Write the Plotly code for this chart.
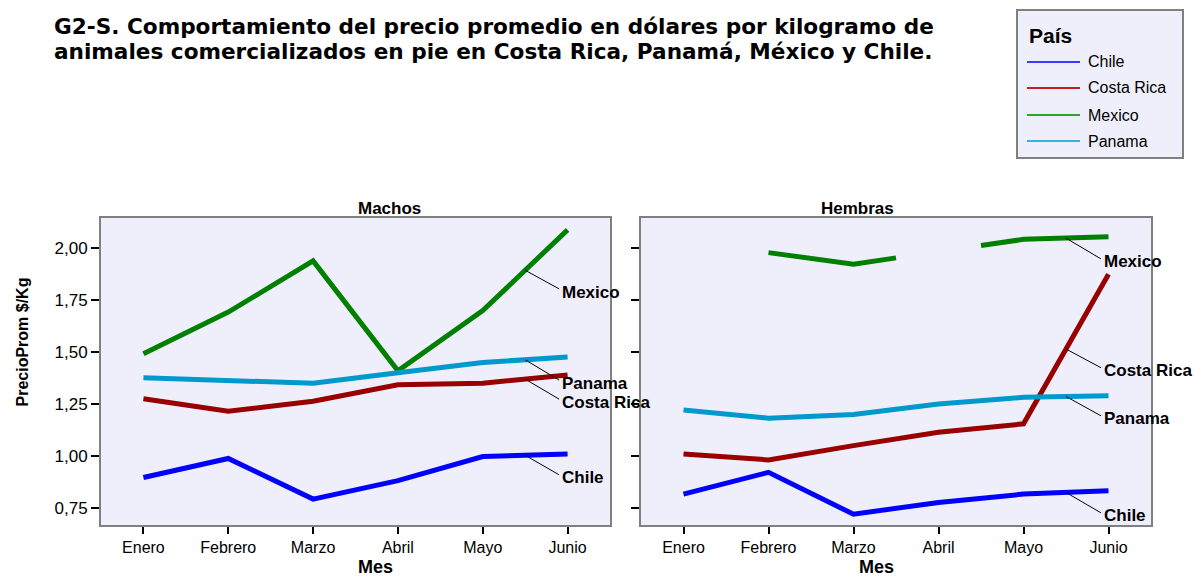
import plotly.graph_objects as go

# ---------------- data ----------------
months = ["Enero", "Febrero", "Marzo", "Abril", "Mayo", "Junio"]
countries = ["Chile", "Costa Rica", "Mexico", "Panama"]

machos_chile = [0.895, 0.987, 0.791, 0.880, 0.996, 1.009]
machos_costa_rica = [1.275, 1.215, 1.263, 1.342, 1.350, 1.390]
machos_mexico = [1.492, 1.693, 1.940, 1.410, 1.700, 2.090]
machos_panama = [1.376, 1.363, 1.350, 1.400, 1.450, 1.476]

hembras_chile = [0.815, 0.920, 0.718, 0.775, 0.815, 0.831]
hembras_costa_rica = [1.009, 0.980, 1.049, 1.113, 1.154, 1.876]
hembras_mexico = [None, 1.980, 1.924, 1.985, 2.044, 2.056]
hembras_panama = [1.221, 1.181, 1.199, 1.250, 1.282, 1.290]

# month index around which the line is interrupted (Mexico, Hembras, Abril)
hembras_mexico_gap = 3

colors = {"Chile": "#0000FF", "Costa Rica": "#990000",
          "Mexico": "#008000", "Panama": "#0099CC"}
legend_colors = {"Chile": "#3a3aff", "Costa Rica": "#c02020",
                 "Mexico": "#30a030", "Panama": "#30b4e4"}

machos = {"Chile": machos_chile, "Costa Rica": machos_costa_rica,
          "Mexico": machos_mexico, "Panama": machos_panama}
hembras = {"Chile": hembras_chile, "Costa Rica": hembras_costa_rica,
           "Mexico": hembras_mexico, "Panama": hembras_panama}

# label positions (value axis) for the end-of-line labels
machos_label_y = {"Mexico": 1.79, "Panama": 1.35, "Costa Rica": 1.258, "Chile": 0.893}
hembras_label_y = {"Mexico": 1.935, "Costa Rica": 1.41, "Panama": 1.178, "Chile": 0.71}

title_lines = ["G2-S. Comportamiento del precio promedio en dólares por kilogramo de",
               "animales comercializados en pie en Costa Rica, Panamá, México y Chile."]

FONT = "Liberation Sans, Arial, sans-serif"
TITLE_FONT = "DejaVu Sans, Verdana, sans-serif"


def series_xy(values, gap=None):
    xs, ys = [], []
    for i, v in enumerate(values):
        if gap is not None and i == gap:
            # half segments towards the interrupted month
            if values[i - 1] is not None:
                xs.append(i - 0.5)
                ys.append((values[i - 1] + v) / 2)
            xs.append(None)
            ys.append(None)
            if values[i + 1] is not None:
                xs.append(i + 0.5)
                ys.append((values[i + 1] + v) / 2)
            continue
        xs.append(i)
        ys.append(v)
    return xs, ys


fig = go.Figure()

for c in countries:
    x, y = series_xy(machos[c])
    fig.add_trace(go.Scatter(x=x, y=y, mode="lines", xaxis="x", yaxis="y",
                             name=c, line=dict(color=colors[c], width=5),
                             showlegend=False, hoverinfo="skip"))
    gap = hembras_mexico_gap if c == "Mexico" else None
    x, y = series_xy(hembras[c], gap)
    fig.add_trace(go.Scatter(x=x, y=y, mode="lines", xaxis="x2", yaxis="y2",
                             name=c, line=dict(color=colors[c], width=5),
                             showlegend=False, hoverinfo="skip", connectgaps=False))

annotations = []
shapes = []


def add_labels(data, label_y, xref, yref, label_x):
    for c, ly in label_y.items():
        vals = data[c]
        start = (vals[4] + vals[5]) / 2
        shapes.append(dict(type="line", xref=xref, yref=yref,
                           x0=4.5, y0=start, x1=label_x - 0.01, y1=ly + 0.015,
                           line=dict(color="black", width=1)))
        annotations.append(dict(text="<b>%s</b>" % c, x=label_x, y=ly,
                                xref=xref, yref=yref, xanchor="left",
                                yanchor="middle", showarrow=False,
                                font=dict(family=FONT, size=17, color="black")))


add_labels(machos, machos_label_y, "x", "y", 4.91)
add_labels(hembras, hembras_label_y, "x2", "y2", 4.92)

W, H = 1194, 579


def px(xp):
    return xp / W


def py(yp):
    return 1 - yp / H


for line_text, cy in zip(title_lines, [27, 52]):
    annotations.append(dict(text="<b>%s</b>" % line_text, x=px(52), y=py(cy),
                            xref="paper", yref="paper", xanchor="left",
                            yanchor="middle", align="left", showarrow=False,
                            font=dict(family=TITLE_FONT, size=21.6, color="black")))

annotations += [
    dict(text="<b>Machos</b>", x=px(355.5), y=py(208), xref="paper", yref="paper",
         showarrow=False, font=dict(family=FONT, size=17, color="black")),
    dict(text="<b>Hembras</b>", x=px(896), y=py(208), xref="paper", yref="paper",
         showarrow=False, font=dict(family=FONT, size=17, color="black")),
    dict(text="<b>Mes</b>", x=px(355.5), y=py(579), xref="paper", yref="paper",
         yanchor="bottom", showarrow=False, font=dict(family=FONT, size=18, color="black")),
    dict(text="<b>Mes</b>", x=px(896), y=py(579), xref="paper", yref="paper",
         yanchor="bottom", showarrow=False, font=dict(family=FONT, size=18, color="black")),
    dict(text="<b>PrecioProm $/Kg</b>", x=px(11), y=py(342), xref="paper",
         yref="paper", textangle=-90, showarrow=False,
         font=dict(family=FONT, size=16, color="black")),
]

# ---- legend box (drawn with shapes + annotations) ----
shapes.append(dict(type="rect", xref="paper", yref="paper",
                   x0=px(1017), x1=px(1183), y0=py(158), y1=py(10),
                   fillcolor="#EFEFFC", line=dict(color="#808080", width=2),
                   layer="below"))
annotations.append(dict(text="<b>País</b>", x=px(1027), y=py(35), xref="paper",
                        yref="paper", xanchor="left", yanchor="middle",
                        showarrow=False, font=dict(family=FONT, size=21, color="black")))
legend_rows = [62, 88, 115, 141]
for c, ry in zip(countries, legend_rows):
    shapes.append(dict(type="line", xref="paper", yref="paper",
                       x0=px(1027), x1=px(1080), y0=py(ry), y1=py(ry),
                       line=dict(color=legend_colors[c], width=2)))
    annotations.append(dict(text=c, x=px(1086), y=py(ry), xref="paper",
                            yref="paper", xanchor="left", yanchor="middle",
                            showarrow=False,
                            font=dict(family=FONT, size=16, color="black")))

xcommon = dict(tickmode="array", tickvals=list(range(len(months))), ticktext=months,
               range=[-0.5, 5.5], showgrid=False, zeroline=False,
               showline=True, linecolor="#808080", linewidth=2, mirror=True,
               ticks="outside", ticklen=7, tickwidth=2, tickcolor="black",
               tickfont=dict(family=FONT, size=16, color="black"))
ycommon = dict(range=[0.666, 2.147], tickvals=[0.75, 1.0, 1.25, 1.5, 1.75, 2.0],
               tickformat=".2f", showgrid=False, zeroline=False,
               showline=True, linecolor="#808080", linewidth=2, mirror=True,
               ticks="outside", ticklen=8, tickwidth=2, tickcolor="black",
               tickfont=dict(family=FONT, size=17, color="black"))

fig.update_layout(
    width=W, height=H,
    margin=dict(l=0, r=0, t=0, b=0),
    paper_bgcolor="white",
    plot_bgcolor="#EFEFFC",
    separators=",.",
    showlegend=False,
    font=dict(family=FONT, color="black"),
    xaxis=dict(domain=[px(101), px(610)], anchor="y", **xcommon),
    yaxis=dict(domain=[py(525), py(218)], anchor="x", **ycommon),
    xaxis2=dict(domain=[px(641), px(1151)], anchor="y2", **xcommon),
    yaxis2=dict(domain=[py(525), py(218)], anchor="x2", showticklabels=False,
                **ycommon),
    annotations=annotations,
    shapes=shapes,
)

fig.write_html("out.html", config={"displayModeBar": False},
               post_script="document.body.style.margin='0px';")
